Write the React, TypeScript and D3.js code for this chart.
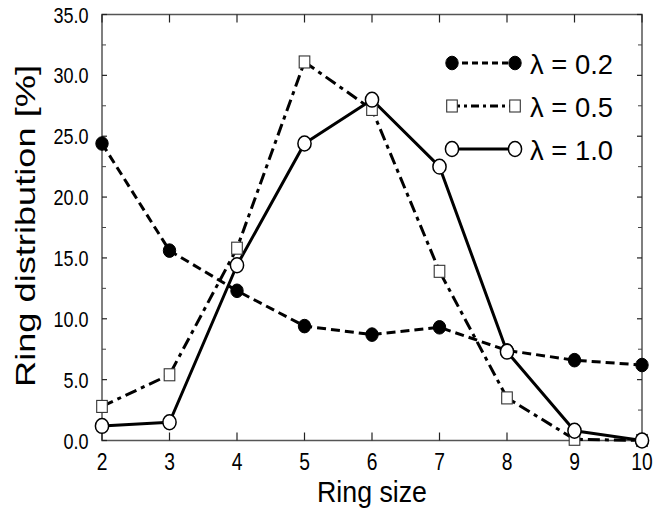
import React from 'react';
import * as d3 from 'd3';

// ring sizes on the x axis
const ringSizes = [2, 3, 4, 5, 6, 7, 8, 9, 10];

// ring distribution [%] per lambda
const lambda02 = [24.4, 15.6, 12.3, 9.4, 8.7, 9.3, 7.4, 6.6, 6.2];
const lambda05 = [2.8, 5.4, 15.8, 31.1, 27.2, 13.9, 3.5, 0.1, 0.0];
const lambda10 = [1.2, 1.5, 14.4, 24.4, 28.0, 22.5, 7.3, 0.8, 0.0];

const seriesLabels = ['\u03bb = 0.2', '\u03bb = 0.5', '\u03bb = 1.0'];
const yTicks = [0, 5, 10, 15, 20, 25, 30, 35];
const yMinorTicks = [2.5, 7.5, 12.5, 17.5, 22.5, 27.5, 32.5];

const width = 671;
const height = 512;
const margin = { top: 14.5, right: 29, bottom: 71.5, left: 102 };
const font = 'Liberation Sans, Arial, Helvetica, sans-serif';
const axisColor = '#555';

type Marker = 'filled' | 'square' | 'open';

function MarkerShape({ type, x, y }: { type: Marker; x: number; y: number }) {
  if (type === 'filled') {
    return <ellipse cx={x} cy={y} rx={6.2} ry={6.8} fill="#000" stroke="#000" strokeWidth={1} />;
  }
  if (type === 'square') {
    return <rect x={x - 5.3} y={y - 6} width={10.6} height={12} fill="#fff" stroke="#333" strokeWidth={1.1} />;
  }
  return <ellipse cx={x} cy={y} rx={6.6} ry={7.4} fill="#fff" stroke="#000" strokeWidth={1.5} />;
}

export default function App() {
  const x = d3.scaleLinear().domain([2, 10]).range([margin.left, width - margin.right]);
  const y = d3.scaleLinear().domain([0, 35]).range([height - margin.bottom, margin.top]);

  const line = d3
    .line<number>()
    .x((_, i) => x(ringSizes[i]))
    .y((d) => y(d));

  const series: { values: number[]; marker: Marker; dash: string }[] = [
    { values: lambda02, marker: 'filled', dash: '9,5' },
    { values: lambda05, marker: 'square', dash: '12,5,4,5' },
    { values: lambda10, marker: 'open', dash: 'none' },
  ];

  const x0 = x.range()[0];
  const x1 = x.range()[1];
  const yBottom = y.range()[0];
  const yTop = y.range()[1];

  // legend geometry
  const legendX0 = 452;
  const legendX1 = 515;
  const legendRows = [63, 106, 149];

  return (
    <svg
      width={width}
      height={height}
      style={{ position: 'absolute', left: 0, top: 0, background: '#fff' }}
    >
      {/* frame */}
      <rect
        x={x0}
        y={yTop}
        width={x1 - x0}
        height={yBottom - yTop}
        fill="none"
        stroke={axisColor}
        strokeWidth={1.5}
      />

      {/* x ticks, top and bottom, pointing inward */}
      {ringSizes.map((r) => (
        <g key={'xt' + r}>
          <line x1={x(r)} x2={x(r)} y1={yBottom} y2={yBottom - 8} stroke="#222" strokeWidth={1.2} />
          <line x1={x(r)} x2={x(r)} y1={yTop} y2={yTop + 8} stroke="#222" strokeWidth={1.2} />
          <g transform={`translate(${x(r)},${470}) scale(0.82,1)`}>
            <text textAnchor="middle" fontFamily={font} fontSize={23.5} fill="#000">
              {r}
            </text>
          </g>
        </g>
      ))}

      {/* y ticks */}
      {yTicks.map((t) => (
        <g key={'yt' + t}>
          <line x1={x0} x2={x0 + 5} y1={y(t)} y2={y(t)} stroke="#222" strokeWidth={1.2} />
          <line x1={x1} x2={x1 - 5} y1={y(t)} y2={y(t)} stroke="#222" strokeWidth={1.2} />
          <g transform={`translate(88.5,${y(t) + 8}) scale(0.82,1)`}>
            <text textAnchor="end" fontFamily={font} fontSize={22} fill="#000">
              {t.toFixed(1)}
            </text>
          </g>
        </g>
      ))}
      {yMinorTicks.map((t) => (
        <g key={'ym' + t}>
          <line x1={x0} x2={x0 + 4} y1={y(t)} y2={y(t)} stroke="#444" strokeWidth={1} />
          <line x1={x1} x2={x1 - 4} y1={y(t)} y2={y(t)} stroke="#444" strokeWidth={1} />
        </g>
      ))}

      {/* series lines */}
      {series.map((s, i) => (
        <path
          key={'l' + i}
          d={line(s.values) || ''}
          fill="none"
          stroke="#000"
          strokeWidth={3}
          strokeDasharray={s.dash}
          strokeLinejoin="round"
        />
      ))}

      {/* markers */}
      {series.map((s, i) => (
        <g key={'m' + i}>
          {s.values.map((v, j) => (
            <MarkerShape key={j} type={s.marker} x={x(ringSizes[j])} y={y(v)} />
          ))}
        </g>
      ))}

      {/* legend */}
      {series.map((s, i) => (
        <g key={'lg' + i}>
          <line
            x1={legendX0}
            x2={legendX1}
            y1={legendRows[i]}
            y2={legendRows[i]}
            stroke="#000"
            strokeWidth={3}
            strokeDasharray={s.dash === 'none' ? 'none' : i === 0 ? '6,4' : '8,4,3,4'}
          />
          <MarkerShape type={s.marker} x={legendX0} y={legendRows[i]} />
          <MarkerShape type={s.marker} x={legendX1} y={legendRows[i]} />
          <text
            x={530}
            y={legendRows[i] + 11}
            fontFamily={font}
            fontSize={28}
            textLength={83}
            lengthAdjust="spacingAndGlyphs"
            fill="#000"
          >
            {seriesLabels[i]}
          </text>
        </g>
      ))}

      {/* axis titles */}
      <text
        x={372}
        y={502}
        textAnchor="middle"
        fontFamily={font}
        fontSize={30}
        textLength={110}
        lengthAdjust="spacingAndGlyphs"
        fill="#000"
      >
        Ring size
      </text>
      <text
        transform={`translate(35,226) rotate(-90)`}
        textAnchor="middle"
        fontFamily={font}
        fontSize={28}
        textLength={322}
        lengthAdjust="spacingAndGlyphs"
        fill="#000"
      >
        Ring distribution [%]
      </text>
    </svg>
  );
}
